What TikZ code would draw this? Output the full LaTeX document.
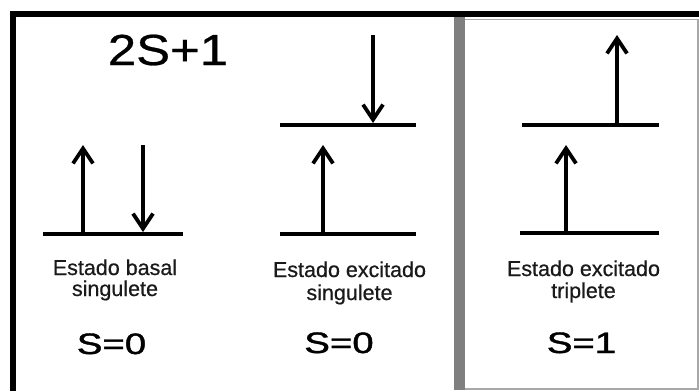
\documentclass[tikz,border=0pt]{standalone}
\usepackage{fontspec}
\setmainfont{Liberation Sans}
\newfontfamily\heavyfont[FakeBold=1.3]{Liberation Sans}
\newfontfamily\midfont[FakeBold=0.6]{Liberation Sans}
\usetikzlibrary{arrows.meta}
\definecolor{bargray}{HTML}{7F7F7F}
\definecolor{edgegray}{HTML}{A8A8A8}
\definecolor{textgray}{HTML}{1A1A1A}
\begin{document}
\begin{tikzpicture}[x=1bp,y=-1bp,
  level/.style={line width=4bp},
  spin/.style={line width=3.8bp,-{Straight Barb[length=15bp,width=20bp]}},
  lbl/.style={anchor=base,inner sep=0pt,text=textgray,font=\midfont\fontsize{21.5bp}{21.5bp}\selectfont},
  spinval/.style={anchor=base,inner sep=0pt,font=\heavyfont\fontsize{29.5bp}{29.5bp}\selectfont},
  bigtitle/.style={anchor=base,inner sep=0pt,font=\midfont\fontsize{43.5bp}{43.5bp}\selectfont},
]
\useasboundingbox (0,0) rectangle (699,391);
\fill[white] (0,0) rectangle (699,391);

% frames
\draw[line width=5.7bp] (12.8,391) -- (12.8,14.2) -- (699,14.2);
\draw[edgegray,line width=1.6bp] (460,19.5) -- (697.8,19.5) -- (697.8,389) -- (460,389);
\fill[bargray] (454,17.1) rectangle (465,389.8);

% title
\node[bigtitle] (title) at (168,65) {\scalebox{1.17}[1]{2S+1}};

% panel 1: ground singlet
\coordinate (p1l) at (43,234);
\coordinate (p1r) at (183,234);
\draw[level] (p1l) -- (p1r);
\coordinate (u1s) at (83,234);
\coordinate (u1t) at (83,145);
\coordinate (d1s) at (143,145);
\coordinate (d1t) at (143,232);
\draw[spin] (u1s) -- (u1t);
\draw[spin] (d1s) -- (d1t);

% panel 2: excited singlet
\coordinate (p2la) at (280,234);
\coordinate (p2ra) at (416,234);
\coordinate (p2lb) at (280,125);
\coordinate (p2rb) at (416,125);
\draw[level] (p2la) -- (p2ra);
\draw[level] (p2lb) -- (p2rb);
\coordinate (u2s) at (323,234);
\coordinate (u2t) at (323,145);
\coordinate (d2s) at (373,35);
\coordinate (d2t) at (373,123);
\draw[spin] (u2s) -- (u2t);
\draw[spin] (d2s) -- (d2t);

% panel 3: excited triplet
\coordinate (p3la) at (520,233);
\coordinate (p3ra) at (659,233);
\coordinate (p3lb) at (522,125);
\coordinate (p3rb) at (659,125);
\draw[level] (p3la) -- (p3ra);
\draw[level] (p3lb) -- (p3rb);
\coordinate (u3s) at (566,233);
\coordinate (u3t) at (566,145);
\coordinate (v3s) at (617,125);
\coordinate (v3t) at (617,35);
\draw[spin] (u3s) -- (u3t);
\draw[spin] (v3s) -- (v3t);

% labels
\node[lbl] (l1a) at (115,275) {Estado basal};
\node[lbl] (l1b) at (115,296) {singulete};
\node[lbl] (l2a) at (349.5,277) {Estado excitado};
\node[lbl] (l2b) at (349.5,300) {singulete};
\node[lbl] (l3a) at (583.5,276) {Estado excitado};
\node[lbl] (l3b) at (583.5,298) {triplete};

\node[spinval] (s1) at (111.5,354) {\scalebox{1.3}[1]{S=0}};
\node[spinval] (s2) at (339,353) {\scalebox{1.3}[1]{S=0}};
\node[spinval] (s3) at (581.5,353) {\scalebox{1.3}[1]{S=1}};
\end{tikzpicture}
\end{document}
